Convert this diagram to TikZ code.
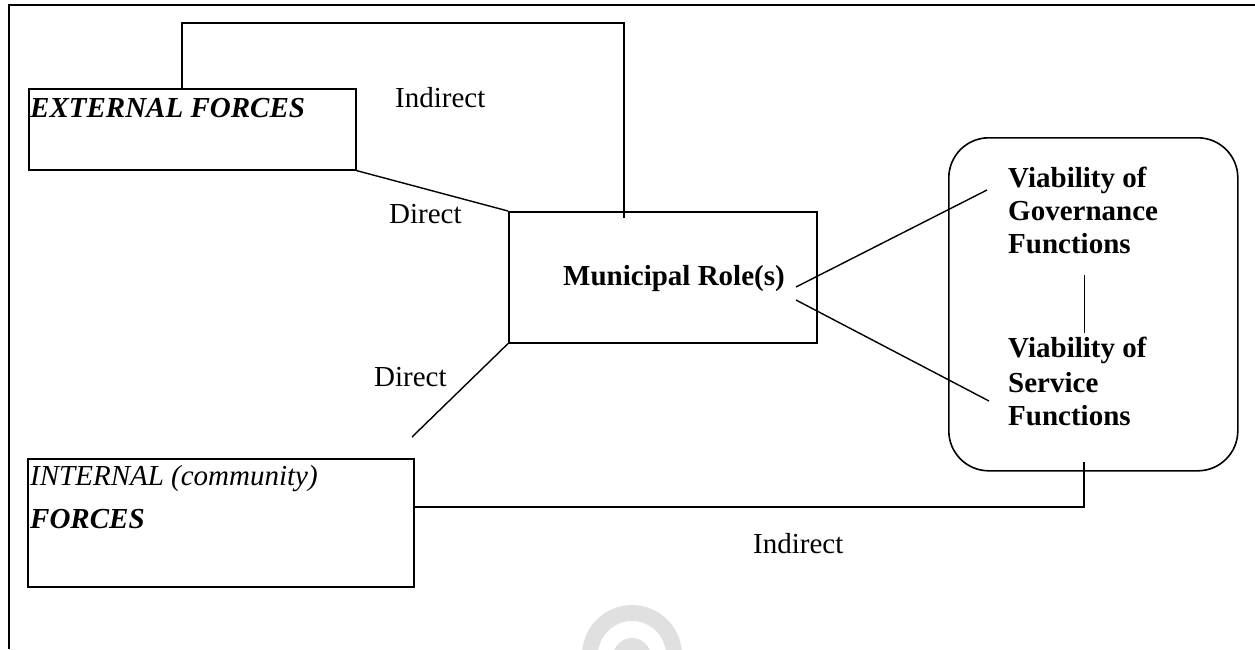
\documentclass[tikz,border=0pt]{standalone}
\usepackage{fontspec}
\setmainfont{Liberation Serif}
\begin{document}
\begin{tikzpicture}[x=1pt,y=-1pt,
  box/.style={draw, line width=1.6pt, inner sep=0pt, anchor=north west},
  txt/.style={inner sep=0pt, anchor=base west, font=\fontsize{29}{33}\selectfont},
  conn/.style={line width=1.4pt},
  frame/.style={line width=2.6pt}]
\useasboundingbox (0,0) rectangle (1255,649);

% faint round mark at the bottom edge
\fill[black!12, even odd rule] (632,655) circle (50) circle (34);
\fill[black!12] (632,657) circle (19);

% page frame
\draw[frame] (9,649) -- (9,5) -- (1255,5);

% boxes
\node[box, minimum width=327pt, minimum height=81pt] (ext) at (28,88) {};
\node[box, minimum width=308pt, minimum height=131pt] (mun) at (508,211) {};
\node[box, minimum width=386pt, minimum height=128pt] (intl) at (27,458) {};
\node[box, rounded corners=40pt, minimum width=289pt, minimum height=333pt] (via) at (948,137) {};

% box texts
\node[txt] (extT) at (30,117) {\textbf{\textit{EXTERNAL FORCES}}};
\node[txt] (munT) at (563,285) {\textbf{Municipal Role(s)}};
\node[txt] (intT1) at (30,485) {\textit{INTERNAL (community)}};
\node[txt] (intT2) at (30,528) {\textbf{\textit{FORCES}}};
\node[txt] (g1) at (1008,187) {\textbf{Viability of}};
\node[txt] (g2) at (1008,220) {\textbf{Governance}};
\node[txt] (g3) at (1008,253) {\textbf{Functions}};
\node[txt] (s1) at (1008,357) {\textbf{Viability of}};
\node[txt] (s2) at (1008,392) {\textbf{Service}};
\node[txt] (s3) at (1008,425) {\textbf{Functions}};

% connector labels
\node[txt] (lInd1) at (395,107) {Indirect};
\node[txt] (lDir1) at (389,223) {Direct};
\node[txt] (lDir2) at (374,386) {Direct};
\node[txt] (lInd2) at (753,553) {Indirect};

% free connector ends
\coordinate (mtop) at (624,218);
\coordinate (d2) at (412,437);
\coordinate (rg0) at (796,287);
\coordinate (rg1) at (987,190);
\coordinate (rs0) at (796,300);
\coordinate (rs1) at (989,401);
\coordinate (gv0) at (1084,275);
\coordinate (gv1) at (1084,333);
\coordinate (ib0) at (413,507);
\coordinate (ib1) at (1084,462);

% connectors
\draw[conn] ([xshift=154pt]ext.north west) -- ++(0,-65) -| (mtop);
\draw[conn] (ext.south east) -- (mun.north west);
\draw[conn] (mun.south west) -- (d2);
\draw[conn] (rg0) -- (rg1);
\draw[conn] (rs0) -- (rs1);
\draw[line width=1pt] (gv0) -- (gv1);
\draw[conn] (ib0) -| (ib1);
\end{tikzpicture}
\end{document}
